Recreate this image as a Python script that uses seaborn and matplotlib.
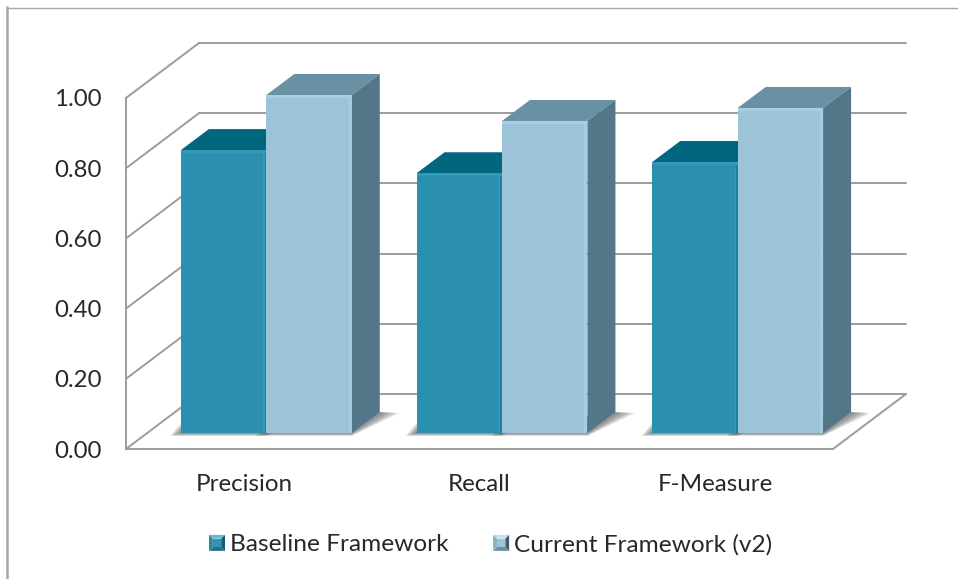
import matplotlib
matplotlib.use("Agg")
import matplotlib.pyplot as plt
import pandas as pd
import seaborn as sns
from matplotlib.legend_handler import HandlerPatch
from matplotlib.lines import Line2D
from matplotlib.patches import Polygon, Rectangle
from matplotlib.transforms import Affine2D

categories = ["Precision", "Recall", "F-Measure"]
series_names = ["Baseline Framework", "Current Framework (v2)"]
baseline_values = [0.806, 0.74, 0.772]
current_values = [0.963, 0.889, 0.926]
y_ticks = [0.0, 0.2, 0.4, 0.6, 0.8, 1.0]

WIDTH, HEIGHT, DPI = 958, 579, 100
PLOT_LEFT, PLOT_RIGHT, PLOT_BOTTOM, PLOT_TOP = 126, 833, 449, 98

GRID = "#9c9c9a"
TEXT = "#282828"
FACE = {series_names[0]: "#2b90b0", series_names[1]: "#9cc3d8"}
TOP = {series_names[0]: "#00677f", series_names[1]: "#6a91a3"}
SIDE = {series_names[0]: "#0e5a70", series_names[1]: "#537789"}
BEVEL = {series_names[0]: "#3399b8", series_names[1]: "#a5cfe3"}
RIDGE = {series_names[0]: "#1b7f9f", series_names[1]: "#a0cbe0"}
SWATCH = {
    series_names[0]: ("#2f96b4", "#63bad2", "#1f7088", "#2a86a2", "#125e72"),
    series_names[1]: ("#9cc3d8", "#c3e0eb", "#6a8fa0", "#8ab0c4", "#3f5f70"),
}

sns.set_theme(style="white")
plt.rcParams["font.family"] = ["Lato", "DejaVu Sans"]

fig = plt.figure(figsize=(WIDTH / DPI, HEIGHT / DPI), dpi=DPI, facecolor="white")
ax = fig.add_axes([
    PLOT_LEFT / WIDTH,
    1 - PLOT_BOTTOM / HEIGHT,
    (PLOT_RIGHT - PLOT_LEFT) / WIDTH,
    (PLOT_BOTTOM - PLOT_TOP) / HEIGHT,
])

data = pd.DataFrame({
    "category": categories * 2,
    "series": [series_names[0]] * 3 + [series_names[1]] * 3,
    "value": baseline_values + current_values,
})
sns.barplot(
    data=data, x="category", y="value", hue="series", hue_order=series_names,
    palette=FACE, width=0.725, gap=0, errorbar=None, legend=False,
    saturation=1, linewidth=0, ax=ax, zorder=4,
)

ax.set_xlim(-0.5, 2.5)
ax.set_ylim(0, 1)
ax.set_xlabel("")
ax.set_ylabel("")
ax.set_yticks(y_ticks, [f"{t:.2f}" for t in y_ticks])
ax.tick_params(axis="y", length=0, pad=17.5, labelsize=17.3, labelcolor=TEXT)
ax.tick_params(axis="x", length=0, pad=18, labelsize=17.4, labelcolor=TEXT)
ax.patch.set_alpha(0)
for spine in ax.spines.values():
    spine.set_visible(False)

# Pixel-to-data factors for the oblique projection.
px_x = 3 / (PLOT_RIGHT - PLOT_LEFT)
px_y = 1 / (PLOT_BOTTOM - PLOT_TOP)
wall_dx, wall_dy = 73 * px_x, 55 * px_y
bar_shift = Affine2D().translate(22.5 * px_x, 16 * px_y)
bar_dx, bar_dy = 28 * px_x, 21 * px_y
x_min, x_max = ax.get_xlim()
line_kw = dict(color=GRID, lw=1.4, clip_on=False, solid_capstyle="round")

# Back wall gridlines, left wall diagonals and the floor outline.
for t in y_ticks:
    ax.plot([x_min + wall_dx, x_max + wall_dx], [t + wall_dy] * 2, zorder=1, **line_kw)
    ax.plot([x_min, x_min + wall_dx], [t, t + wall_dy], zorder=1, **line_kw)
ax.plot([x_min, x_min], [0, 1], zorder=1, **line_kw)
ax.plot([x_min, x_max], [0, 0], zorder=2, **line_kw)
ax.plot([x_max, x_max + wall_dx], [0, wall_dy], zorder=2, **line_kw)

offset = bar_shift + ax.transData


def face(points, color, zorder, alpha=None):
    ax.add_patch(Polygon(points, closed=True, fc=color, ec="none", alpha=alpha,
                         transform=offset, clip_on=False, zorder=zorder))


for name, container in zip(series_names, ax.containers):
    for bar in container:
        x0, w, h = bar.get_x(), bar.get_width(), bar.get_height()
        x1 = x0 + w
        bar.set_transform(offset)
        bar.set_clip_on(False)

        # Soft floor shadow, built up from translucent layers.
        for i in range(9):
            spread = 1 - i / 8
            face([
                (x0 - 11 * px_x * spread, -3 * px_y * spread),
                (x1, -3 * px_y * spread),
                (x1 + bar_dx + 20 * px_x * spread, bar_dy - 1 * px_y),
                (x1 + bar_dx, bar_dy),
                (x0, 10 * px_y * spread),
            ], "#5f5f5f", 2, alpha=0.13)

        # Roof and right side of the column.
        face([(x0, h), (x1, h), (x1 + bar_dx, h + bar_dy), (x0 + bar_dx, h + bar_dy)],
             TOP[name], 3)
        face([(x1, 0), (x1 + bar_dx, bar_dy), (x1 + bar_dx, h + bar_dy), (x1, h)],
             SIDE[name], 3.2)

        # Bevelled rims on the front face.
        rim = 1.5 * px_x
        face([(x1 - 2 * rim, 0), (x1 - rim, 0), (x1 - rim, h), (x1 - 2 * rim, h)],
             BEVEL[name], 5)
        face([(x1 - rim, 0), (x1, 0), (x1, h), (x1 - rim, h)], RIDGE[name], 5)
        face([(x0, h - 3 * px_y), (x1, h - 3 * px_y), (x1, h), (x0, h)], BEVEL[name], 5)


class BevelSwatch(HandlerPatch):
    """Legend key drawn as a small raised tile."""

    def create_artists(self, legend, orig_handle, xdescent, ydescent, width, height,
                       fontsize, trans):
        centre, upper, lower, left, right = SWATCH[orig_handle.get_label()]
        x, y = -xdescent, -ydescent
        size = 16 * 72 / DPI
        y -= (size - height) / 2
        inset = size * 0.24
        a, b, c, d = (x, y), (x + size, y), (x + size, y + size), (x, y + size)
        ia, ib = (x + inset, y + inset), (x + size - inset, y + inset)
        ic, id_ = (x + size - inset, y + size - inset), (x + inset, y + size - inset)
        pieces = [
            ([d, c, ic, id_], upper), ([a, b, ib, ia], lower),
            ([a, d, id_, ia], left), ([b, c, ic, ib], right),
            ([ia, ib, ic, id_], centre),
        ]
        return [Polygon(p, closed=True, fc=col, ec="none", transform=trans) for p, col in pieces]


handles = [Rectangle((0, 0), 1, 1, label=n) for n in series_names]
fig.legend(
    handles=handles, labels=series_names, handler_map={Rectangle: BevelSwatch()},
    loc="center left", bbox_to_anchor=(209 / WIDTH, 1 - 544 / HEIGHT),
    ncols=2, frameon=False, fontsize=17.6, labelcolor=TEXT,
    handlelength=0.65, handleheight=0.9, handletextpad=0.2, columnspacing=1.83,
    borderpad=0, borderaxespad=0,
)

# Chart frame: only the left and top edges show.
fig.add_artist(Line2D([7 / WIDTH] * 2, [0, 1 - 7 / HEIGHT], color="#a8a8a8", lw=1.8))
fig.add_artist(Line2D([6 / WIDTH, 1], [1 - 7.5 / HEIGHT] * 2, color="#a8a8a8", lw=1.0))

fig.savefig("out.png", dpi=DPI, facecolor="white")
